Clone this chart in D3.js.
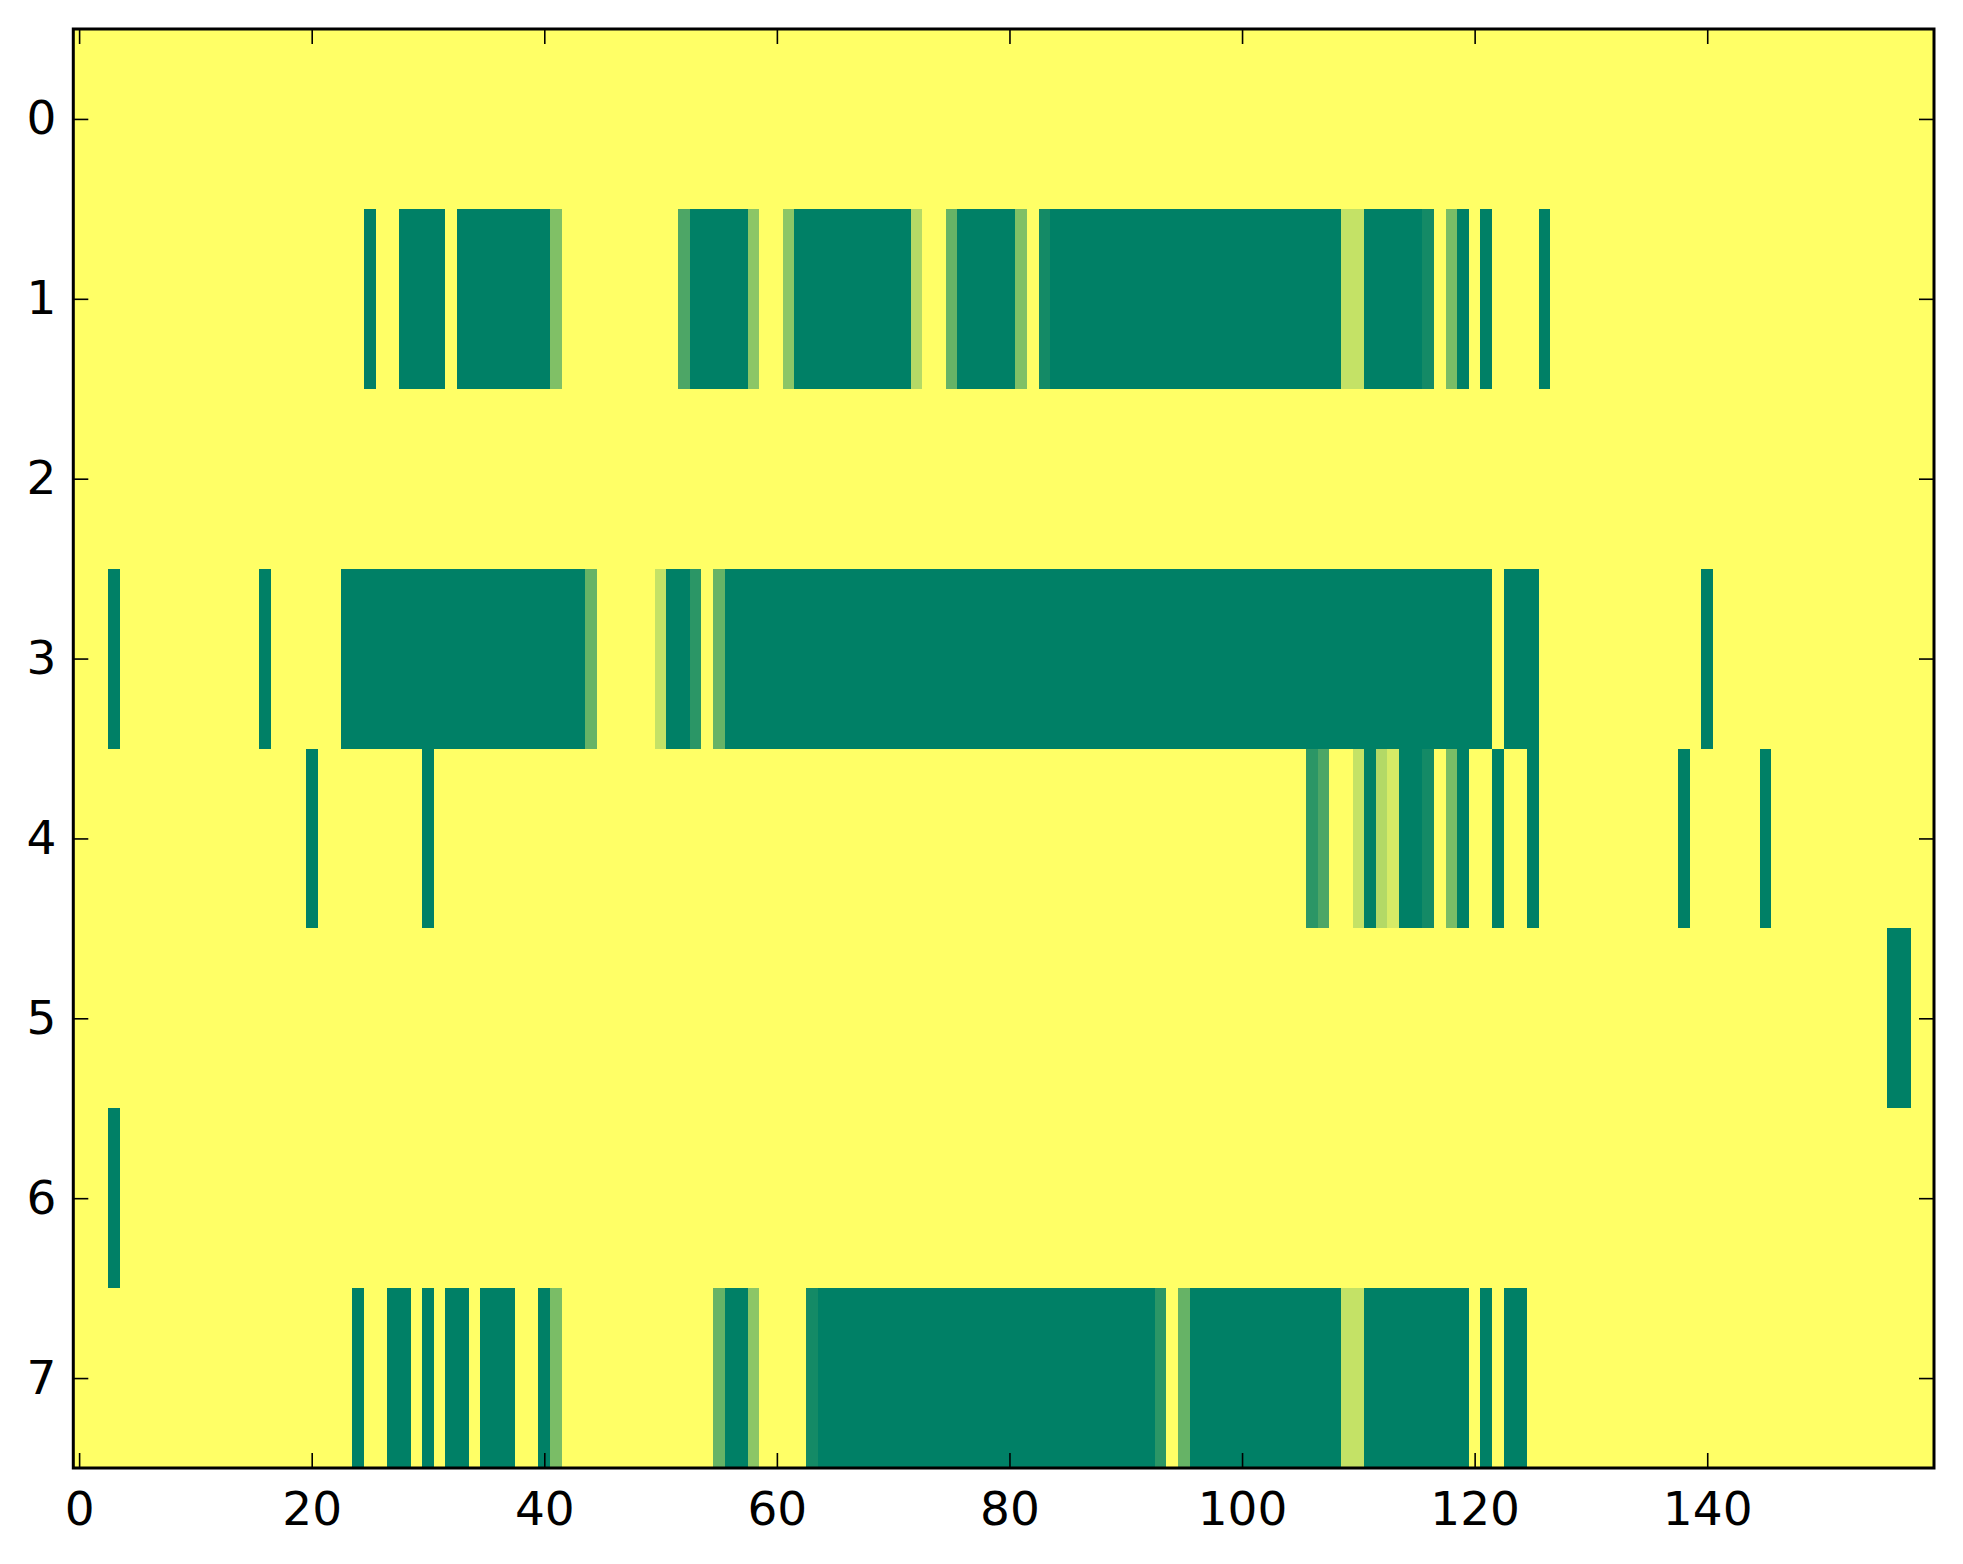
<!DOCTYPE html>
<html lang="en">

<head>
  <meta charset="UTF-8">
  <script src="https://cdn.jsdelivr.net/npm/d3@7/dist/d3.min.js"></script>
  <title>heatmap</title>
  <style>
    body { margin: 0; background: #fff; }
    .tick text { font-family: "DejaVu Sans", sans-serif; font-size: 47px; fill: #000; }
  </style>
</head>

<body>
  <svg width="1963" height="1564"></svg>
  <script>
    // 每一行 160 个格子的取值 (0 = 黄色, 1 = 深绿)
    var row0 = [
      0,0,0,0,0,0,0,0,0,0,0,0,0,0,0,0,0,0,0,0,
      0,0,0,0,0,0,0,0,0,0,0,0,0,0,0,0,0,0,0,0,
      0,0,0,0,0,0,0,0,0,0,0,0,0,0,0,0,0,0,0,0,
      0,0,0,0,0,0,0,0,0,0,0,0,0,0,0,0,0,0,0,0,
      0,0,0,0,0,0,0,0,0,0,0,0,0,0,0,0,0,0,0,0,
      0,0,0,0,0,0,0,0,0,0,0,0,0,0,0,0,0,0,0,0,
      0,0,0,0,0,0,0,0,0,0,0,0,0,0,0,0,0,0,0,0,
      0,0,0,0,0,0,0,0,0,0,0,0,0,0,0,0,0,0,0,0
    ];
    var row1 = [
      0,0,0,0,0,0,0,0,0,0,0,0,0,0,0,0,0,0,0,0,
      0,0,0,0,0,1,0,0,1,1,1,1,0,1,1,1,1,1,1,1,
      1,.5,0,0,0,0,0,0,0,0,0,0,.7,1,1,1,1,1,.45,0,
      0,.45,1,1,1,1,1,1,1,1,1,1,.29,0,0,.6,1,1,1,1,
      1,.5,0,.92,1,1,1,1,1,1,1,1,1,1,1,1,1,1,1,1,
      1,1,1,1,1,1,1,1,1,.23,.23,1,1,1,1,1,.92,0,.52,1,
      0,1,0,0,0,0,1,0,0,0,0,0,0,0,0,0,0,0,0,0,
      0,0,0,0,0,0,0,0,0,0,0,0,0,0,0,0,0,0,0,0
    ];
    var row2 = [
      0,0,0,0,0,0,0,0,0,0,0,0,0,0,0,0,0,0,0,0,
      0,0,0,0,0,0,0,0,0,0,0,0,0,0,0,0,0,0,0,0,
      0,0,0,0,0,0,0,0,0,0,0,0,0,0,0,0,0,0,0,0,
      0,0,0,0,0,0,0,0,0,0,0,0,0,0,0,0,0,0,0,0,
      0,0,0,0,0,0,0,0,0,0,0,0,0,0,0,0,0,0,0,0,
      0,0,0,0,0,0,0,0,0,0,0,0,0,0,0,0,0,0,0,0,
      0,0,0,0,0,0,0,0,0,0,0,0,0,0,0,0,0,0,0,0,
      0,0,0,0,0,0,0,0,0,0,0,0,0,0,0,0,0,0,0,0
    ];
    var row3 = [
      0,0,0,1,0,0,0,0,0,0,0,0,0,0,0,0,1,0,0,0,
      0,0,0,1,1,1,1,1,1,1,1,1,1,1,1,1,1,1,1,1,
      1,1,1,1,.6,0,0,0,0,0,.23,1,1,.83,0,.6,1,1,1,1,
      1,1,1,1,1,1,1,1,1,1,1,1,1,1,1,1,1,1,1,1,
      1,1,1,1,1,1,1,1,1,1,1,1,1,1,1,1,1,1,1,1,
      1,1,1,1,1,1,1,1,1,1,1,1,1,1,1,1,1,1,1,1,
      1,1,0,1,1,1,0,0,0,0,0,0,0,0,0,0,0,0,0,0,
      1,0,0,0,0,0,0,0,0,0,0,0,0,0,0,0,0,0,0,0
    ];
    var row4 = [
      0,0,0,0,0,0,0,0,0,0,0,0,0,0,0,0,0,0,0,0,
      1,0,0,0,0,0,0,0,0,0,1,0,0,0,0,0,0,0,0,0,
      0,0,0,0,0,0,0,0,0,0,0,0,0,0,0,0,0,0,0,0,
      0,0,0,0,0,0,0,0,0,0,0,0,0,0,0,0,0,0,0,0,
      0,0,0,0,0,0,0,0,0,0,0,0,0,0,0,0,0,0,0,0,
      0,0,0,0,0,0,.83,.7,0,0,.23,1,.3,.16,1,1,.92,0,.52,1,
      0,0,1,0,0,1,0,0,0,0,0,0,0,0,0,0,0,0,1,0,
      0,0,0,0,0,1,0,0,0,0,0,0,0,0,0,0,0,0,0,0
    ];
    var row5 = [
      0,0,0,0,0,0,0,0,0,0,0,0,0,0,0,0,0,0,0,0,
      0,0,0,0,0,0,0,0,0,0,0,0,0,0,0,0,0,0,0,0,
      0,0,0,0,0,0,0,0,0,0,0,0,0,0,0,0,0,0,0,0,
      0,0,0,0,0,0,0,0,0,0,0,0,0,0,0,0,0,0,0,0,
      0,0,0,0,0,0,0,0,0,0,0,0,0,0,0,0,0,0,0,0,
      0,0,0,0,0,0,0,0,0,0,0,0,0,0,0,0,0,0,0,0,
      0,0,0,0,0,0,0,0,0,0,0,0,0,0,0,0,0,0,0,0,
      0,0,0,0,0,0,0,0,0,0,0,0,0,0,0,0,1,1,0,0
    ];
    var row6 = [
      0,0,0,1,0,0,0,0,0,0,0,0,0,0,0,0,0,0,0,0,
      0,0,0,0,0,0,0,0,0,0,0,0,0,0,0,0,0,0,0,0,
      0,0,0,0,0,0,0,0,0,0,0,0,0,0,0,0,0,0,0,0,
      0,0,0,0,0,0,0,0,0,0,0,0,0,0,0,0,0,0,0,0,
      0,0,0,0,0,0,0,0,0,0,0,0,0,0,0,0,0,0,0,0,
      0,0,0,0,0,0,0,0,0,0,0,0,0,0,0,0,0,0,0,0,
      0,0,0,0,0,0,0,0,0,0,0,0,0,0,0,0,0,0,0,0,
      0,0,0,0,0,0,0,0,0,0,0,0,0,0,0,0,0,0,0,0
    ];
    var row7 = [
      0,0,0,0,0,0,0,0,0,0,0,0,0,0,0,0,0,0,0,0,
      0,0,0,0,1,0,0,1,1,0,1,0,1,1,0,1,1,1,0,0,
      1,.52,0,0,0,0,0,0,0,0,0,0,0,0,0,.6,1,1,.45,0,
      0,0,0,.92,1,1,1,1,1,1,1,1,1,1,1,1,1,1,1,1,
      1,1,1,1,1,1,1,1,1,1,1,1,1,.83,0,.6,1,1,1,1,
      1,1,1,1,1,1,1,1,1,.23,.23,1,1,1,1,1,1,1,1,1,
      0,1,0,1,1,0,0,0,0,0,0,0,0,0,0,0,0,0,0,0,
      0,0,0,0,0,0,0,0,0,0,0,0,0,0,0,0,0,0,0,0
    ];
    var rows = [row0, row1, row2, row3, row4, row5, row6, row7];

    var xTicks = [0, 20, 40, 60, 80, 100, 120, 140];
    var yTicks = [0, 1, 2, 3, 4, 5, 6, 7];

    var svg = d3.select("svg");
    var box = { left: 73.3, right: 1934, top: 29, bottom: 1468 };
    var nCols = row0.length;

    var x = d3.scaleLinear().domain([-0.5, nCols - 0.5]).range([box.left, box.right]);
    var y = d3.scaleLinear().domain([-0.5, rows.length - 0.5]).range([box.top, box.bottom]);

    // summer_r 颜色: 0 -> 黄, 1 -> 绿
    var color = d3.scaleLinear().domain([0, 1]).range(["#ffff66", "#008066"]);

    var cells = [];
    rows.forEach(function (r, ri) {
      r.forEach(function (v, ci) { cells.push({ row: ri, col: ci, value: v }); });
    });

    svg.append("g")
      .attr("shape-rendering", "crispEdges")
      .selectAll("rect")
      .data(cells)
      .enter()
      .append("rect")
      .attr("x", d => x(d.col - 0.5))
      .attr("y", d => y(d.row - 0.5))
      .attr("width", d => x(d.col + 0.5) - x(d.col - 0.5) + 0.6)
      .attr("height", d => y(d.row + 0.5) - y(d.row - 0.5) + 0.6)
      .attr("fill", d => color(d.value));

    // 坐标轴 (刻度朝内, 四边都有)
    function styleAxis(g) {
      g.select(".domain").remove();
      g.selectAll(".tick line").attr("stroke", "#000").attr("stroke-width", 1.6);
    }

    svg.append("g")
      .attr("transform", "translate(0," + box.bottom + ")")
      .call(d3.axisBottom(x).tickValues(xTicks).tickSize(-15).tickPadding(24))
      .call(styleAxis);
    svg.append("g")
      .attr("transform", "translate(0," + box.top + ")")
      .call(d3.axisTop(x).tickValues(xTicks).tickSize(-15).tickFormat(""))
      .call(styleAxis);
    svg.append("g")
      .attr("transform", "translate(" + box.left + ",0)")
      .call(d3.axisLeft(y).tickValues(yTicks).tickSize(-15).tickPadding(17))
      .call(styleAxis);
    svg.append("g")
      .attr("transform", "translate(" + box.right + ",0)")
      .call(d3.axisRight(y).tickValues(yTicks).tickSize(-15).tickFormat(""))
      .call(styleAxis);

    svg.selectAll(".tick text").attr("font-family", null).attr("font-size", null);

    svg.append("rect")
      .attr("x", box.left)
      .attr("y", box.top)
      .attr("width", box.right - box.left)
      .attr("height", box.bottom - box.top)
      .attr("fill", "none")
      .attr("stroke", "#000")
      .attr("stroke-width", 3);
  </script>
</body>

</html>
